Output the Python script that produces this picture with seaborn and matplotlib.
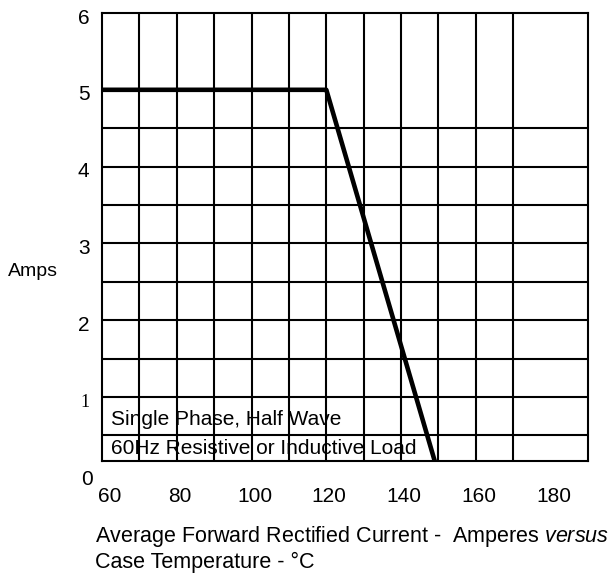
import matplotlib
matplotlib.use("Agg")
import matplotlib.pyplot as plt
import matplotlib.transforms as mtransforms
import seaborn as sns
import pandas as pd

# ---- data ----
temp_c = [60, 120, 150]
amps = [5, 5, 0]
x_ticks = [60, 80, 100, 120, 140, 160, 180]
y_ticks = [1, 2, 3, 4, 5, 6]
grid_x = [70, 80, 90, 100, 110, 120, 130, 140, 150, 160, 170]
grid_y = [0.5, 1.0, 1.5, 2.0, 2.5, 3.0, 3.5, 4.0, 4.5]
note_lines = ["Single Phase, Half Wave", "60Hz Resistive or Inductive Load"]

sns.set_theme(style="white")
plt.rcParams["font.family"] = ["Liberation Sans", "DejaVu Sans"]
plt.rcParams["mathtext.fontset"] = "custom"
plt.rcParams["mathtext.rm"] = "Liberation Sans"
plt.rcParams["mathtext.it"] = "Liberation Sans:italic"
plt.rcParams["text.color"] = "black"
plt.rcParams["xtick.color"] = "black"
plt.rcParams["ytick.color"] = "black"
plt.rcParams["xtick.labelcolor"] = "black"
plt.rcParams["ytick.labelcolor"] = "black"

fig = plt.figure(figsize=(6.1, 5.73), dpi=100)
ax = fig.add_axes([102 / 610, 1 - 461 / 573, (588 - 102) / 610, (461 - 13) / 573])

for gx in grid_x:
    ax.axvline(gx, color="black", lw=1.5, zorder=1)
for gy in grid_y:
    ax.axhline(gy, color="black", lw=1.5, zorder=1)

df = pd.DataFrame({"temp": temp_c, "amps": amps})
sns.lineplot(data=df, x="temp", y="amps", color="black", lw=3.3, sort=False, ax=ax, zorder=3)

ax.set_xlim(60, 190)
ax.set_ylim(0.167, 6)
for s in ax.spines.values():
    s.set_color("black")
    s.set_linewidth(1.5)
    s.set_visible(True)

ax.set_xticks(x_ticks)
ax.set_xticklabels([str(v) for v in x_ticks], fontsize=15, color="black")
ax.set_yticks(y_ticks)
ax.set_yticklabels([str(v) for v in y_ticks], fontsize=15, color="black")
ax.tick_params(axis="x", length=0, pad=19)
ax.tick_params(axis="y", length=0, pad=9)
ax.set_xlabel("")
ax.set_ylabel("")

# small shifts of x tick labels
for i, lab in enumerate(ax.get_xticklabels()):
    dx = 8 if i == 0 else 3
    lab.set_transform(lab.get_transform() + mtransforms.ScaledTranslation(dx / 100, 0, fig.dpi_scale_trans))
for lab in ax.get_yticklabels():
    lab.set_transform(lab.get_transform() + mtransforms.ScaledTranslation(0, -3 / 100, fig.dpi_scale_trans))
    if lab.get_text() == "1":
        lab.set_fontfamily("Liberation Serif")
        lab.set_fontsize(13)

# "0" label below the frame
trans0 = mtransforms.blended_transform_factory(ax.transAxes, ax.transData) + \
    mtransforms.ScaledTranslation(-9 / 100, -6 / 100, fig.dpi_scale_trans)
ax.text(0, 0, "0", transform=trans0, ha="right", va="center", fontsize=15, clip_on=False, color="black")

# note inside plot
ax.text(62.4, 0.635, note_lines[0], fontsize=15, ha="left", va="baseline", zorder=2, color="black")
ax.text(62.4, 0.258, note_lines[1], fontsize=15, ha="left", va="baseline", zorder=2, color="black")

# y label
fig.text(8 / 610, 1 - 272 / 573, "Amps", fontsize=14, ha="left", va="center", color="black")

# x label (two lines)
fig.text(95 / 610, 1 - 542 / 573, r"Average Forward Rectified Current -  Amperes $\mathit{versus}$",
         fontsize=15.5, ha="left", va="baseline", color="black")
fig.text(95 / 610, 1 - 568 / 573, "Case Temperature - °C", fontsize=15.5, ha="left", va="baseline",
         color="black")

fig.savefig("out.png", dpi=100)
